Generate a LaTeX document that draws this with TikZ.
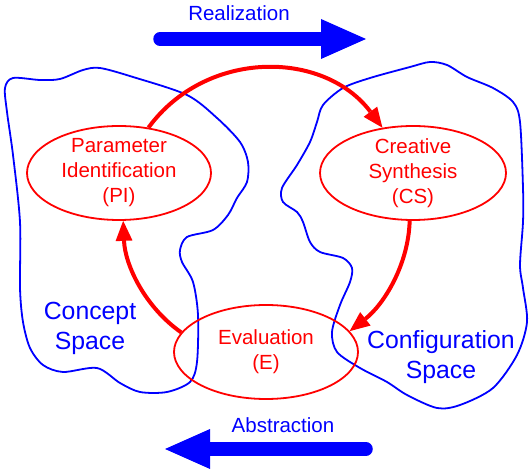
\documentclass[tikz,border=0pt]{standalone}
\usepackage{fontspec}
\setmainfont{Liberation Sans}
\usetikzlibrary{arrows.meta,shapes.geometric}
\begin{document}
\begin{tikzpicture}[x=1pt,y=1pt,
  ell/.style={ellipse,draw=red,line width=1.8pt,inner sep=0pt},
  etext/.style={text=red,align=center,font=\fontsize{20.5}{25}\selectfont},
  spacelabel/.style={text=blue,align=center,font=\fontsize{24.8}{30}\selectfont},
  dirlabel/.style={text=blue,font=\fontsize{20.5}{25}\selectfont},
  blob/.style={draw=blue,line width=1.8pt},
  cyc/.style={draw=red,line width=4pt,-{Triangle[length=20pt,width=17pt,line width=0pt]}},
  bigarrow/.style={draw=blue,line width=13.5pt,line cap=round,-{Triangle[length=45pt,width=40pt,line width=0pt]}}]
\useasboundingbox (0,0) rectangle (529,468);

% Concept space blob
\draw[blob] plot[smooth cycle,tension=0.5] coordinates {
(5,380) (13,390) (40,388) (60,389) (83,398) (100,400) (133,391) (187,373) (217,350) (240,326) (248,306) (247,286) (237,270) (228,253) (213,238) (187,231) (180,218) (182,206) (193,186) (198,153) (197,106) (190,86) (167,76) (140,76) (120,85) (97,100) (63,96) (43,103) (30,120) (23,146) (20,180) (20,246) (13,313) (7,356)};

% Configuration space blob
\draw[blob] plot[smooth cycle,tension=0.5] coordinates {
(323,363) (343,380) (370,390) (410,401) (430,406) (447,403) (467,391) (493,380) (513,366) (520,346) (523,280) (523,246) (520,203) (523,180) (527,146) (517,113) (493,80) (460,63) (437,60) (407,73) (387,86) (360,100) (337,116) (332,136) (340,163) (350,186) (352,200) (343,210) (320,216) (310,226) (303,246) (297,256) (283,266) (282,280) (297,303) (310,326) (317,346)};

% Ellipses
\node[ell,minimum width=184pt,minimum height=94pt] (PI) at (119,295) {};
\node[ell,minimum width=186pt,minimum height=94pt] (CS) at (413,295) {};
\node[ell,minimum width=184pt,minimum height=94pt] (E) at (266,116) {};

\node[etext] (PIt) at (PI) {Parameter\\Identification\\(PI)};
\node[etext] (CSt) at (CS) {Creative\\Synthesis\\(CS)};
\node[etext] (Et) at (E) {Evaluation\\(E)};

% Cycle arrows
\draw[cyc] (PI.57) to[out=53.7,in=127,looseness=1.07] (CS.124);
\draw[cyc] (CS.266) to[out=-91.6,in=38,looseness=0.89] (E.14);
\draw[cyc] (E.167) to[out=145,in=272.4,looseness=0.9] (PI.275);

% Space labels
\node[spacelabel] (cspace) at (90,140) {Concept\\Space};
\node[spacelabel] (gspace) at (441,111) {Configuration\\Space};

% Direction arrows
\node[dirlabel] (real) at (239,455) {Realization};
\node[dirlabel] (abst) at (283,43) {Abstraction};
\coordinate (rtail) at (160,429);
\coordinate (rtip) at (366,429);
\coordinate (atail) at (366,19);
\coordinate (atip) at (165,19);
\draw[bigarrow] (rtail) -- (rtip);
\draw[bigarrow] (atail) -- (atip);
\end{tikzpicture}
\end{document}
